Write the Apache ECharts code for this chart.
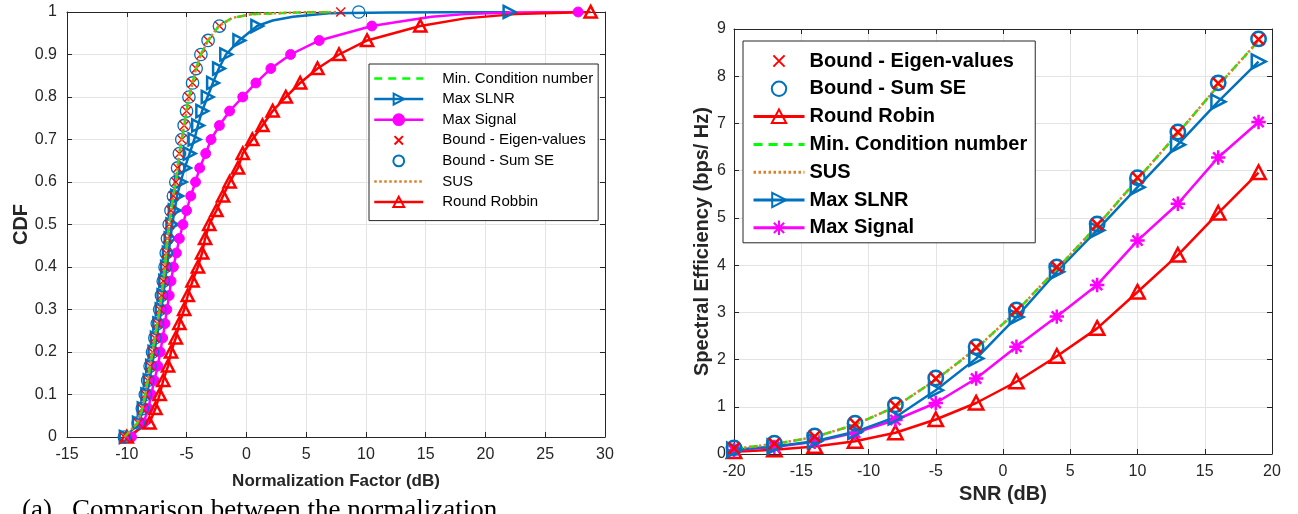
<!DOCTYPE html>
<html><head><meta charset="utf-8">
<script src="https://cdn.jsdelivr.net/npm/echarts@6/dist/echarts.min.js"></script>
<style>
html,body{margin:0;padding:0;background:#fff;overflow:hidden;width:1298px;height:514px}
#c1{position:absolute;left:0;top:0;width:650px;height:514px}
#c2{position:absolute;left:650px;top:0;width:648px;height:514px}
</style></head>
<body><div id="c1"></div><div id="c2"></div>
<script>
// ---------------- LEFT CHART DATA (CDF of normalization factor) ----------------
const cdfLevels = [0,0.033,0.067,0.1,0.133,0.167,0.2,0.233,0.267,0.3,0.333,0.367,0.4,0.433,0.467,0.5,0.533,0.567,0.6,0.633,0.667,0.7,0.733,0.767,0.8,0.833,0.867,0.9,0.933,0.967,1];
const leftXTicks = [-15,-10,-5,0,5,10,15,20,25,30];
const boundSumSEx = [-10.2,-9.05,-8.7,-8.45,-8.25,-8.05,-7.85,-7.65,-7.45,-7.25,-7.1,-6.95,-6.8,-6.7,-6.6,-6.45,-6.3,-6.1,-5.9,-5.75,-5.6,-5.4,-5.2,-5.0,-4.8,-4.5,-4.2,-3.8,-3.2,-2.25,9.4];
const boundEigX = [-10.2,-9.05,-8.7,-8.45,-8.25,-8.05,-7.85,-7.65,-7.45,-7.25,-7.1,-6.95,-6.8,-6.7,-6.6,-6.45,-6.3,-6.1,-5.9,-5.75,-5.6,-5.4,-5.2,-5.0,-4.8,-4.5,-4.2,-3.8,-3.2,-2.25,7.9];
const minCondX = [-10.2,-9.1,-8.7,-8.45,-8.25,-8.05,-7.85,-7.65,-7.45,-7.25,-7.1,-6.95,-6.8,-6.7,-6.6,-6.45,-6.3,-6.1,-5.9,-5.75,-5.6,-5.4,-5.2,-5.0,-4.8,-4.5,-4.2,-3.8,-3.2,-2.3];
const minCondTailX = [-1.2,0.5,4.4,7.3];
const minCondTailY = [0.986,0.995,0.999,1];
const susX = [-10.2,-9.1,-8.7,-8.45,-8.25,-8.05,-7.85,-7.65,-7.45,-7.25,-7.1,-6.95,-6.8,-6.7,-6.6,-6.45,-6.3,-6.1,-5.9,-5.75,-5.6,-5.4,-5.2,-5.0,-4.8,-4.5,-4.2,-3.8,-3.2,-2.3];
const susTailX = [-1.2,0.5,4.4,7.5];
const susTailY = [0.986,0.995,0.999,1];
const slnrX = [-10.1,-9.0,-8.6,-8.3,-8.1,-7.9,-7.7,-7.5,-7.3,-7.1,-6.95,-6.8,-6.65,-6.5,-6.35,-6.2,-6.0,-5.8,-5.5,-5.15,-4.75,-4.35,-4.05,-3.7,-3.25,-2.8,-2.3,-1.7,-0.6,0.9,22];
const slnrTailX = [2.2,3.9,6.9,12];
const slnrTailY = [0.98,0.989,0.997,0.999];
const signalX = [-9.6,-8.6,-8.2,-7.95,-7.7,-7.4,-7.2,-7.0,-6.8,-6.65,-6.45,-6.3,-6.1,-5.85,-5.6,-5.3,-5.0,-4.65,-4.25,-3.9,-3.4,-2.95,-2.25,-1.4,-0.3,0.8,2.05,3.7,6.1,10.5,27.75];
const signalTailX = [12.75,15.5,18.3,22.2];
const signalTailY = [0.977,0.989,0.995,0.999];
const robbinX = [-10.0,-8.1,-7.6,-7.25,-6.95,-6.55,-6.3,-5.9,-5.6,-5.2,-4.9,-4.5,-4.05,-3.7,-3.45,-3.1,-2.5,-1.95,-1.4,-0.7,-0.3,0.5,1.35,2.2,3.3,4.5,5.95,7.75,10.1,14.55,28.8];
const robbinTailX = [18.3,22.5];
const robbinTailY = [0.985,0.995];

// ---------------- RIGHT CHART DATA (Spectral efficiency vs SNR) ----------------
const snr = [-20,-17,-14,-11,-8,-5,-2,1,4,7,10,13,16,19];
const seBoundEig = [0.12,0.22,0.37,0.64,1.02,1.6,2.26,3.05,3.96,4.86,5.85,6.82,7.85,8.78];
const seBoundSumSE = [0.13,0.23,0.38,0.65,1.04,1.61,2.27,3.05,3.96,4.87,5.85,6.82,7.86,8.79];
const seRoundRobin = [0.05,0.09,0.16,0.27,0.45,0.73,1.08,1.53,2.07,2.66,3.43,4.21,5.1,5.96];
const seMinCond = [0.11,0.21,0.36,0.62,1.0,1.57,2.23,3.02,3.92,4.83,5.82,6.79,7.8,8.75];
const seSUS = [0.11,0.21,0.36,0.62,1.0,1.57,2.23,3.02,3.92,4.83,5.82,6.79,7.8,8.75];
const seMaxSLNR = [0.09,0.16,0.27,0.47,0.78,1.35,2.02,2.9,3.86,4.74,5.65,6.55,7.46,8.31];
const seMaxSignal = [0.08,0.15,0.26,0.45,0.72,1.08,1.6,2.27,2.91,3.58,4.52,5.3,6.28,7.03];

// ---------------- styling ----------------
const FONT = 'Liberation Sans, Arial, Helvetica, sans-serif';
const AX = '#262626';
const GRIDC = '#e3e3e3';
const C = {blue:'#0072BD', magenta:'#FF00FF', red:'#FF0000', green:'#00FF00', orange:'#D9822B'};
const SYM = {
  circle: 'path://M0,0M20,20M19,10A9,9,0,1,1,1,10A9,9,0,1,1,19,10Z',
  x: 'path://M0,0M20,20M3,3L17,17M17,3L3,17',
  triRight: 'path://M0,0M20,20M1.5,1L19,10L1.5,19Z',
  triUp: 'path://M0,0M20,20M10,1L19,18L1,18Z',
  star: 'path://M0,0M20,20M10,1L10,19M1,10L19,10M3.6,3.6L16.4,16.4M16.4,3.6L3.6,16.4'
};

function curve(xs, tailX, tailY) {
  const pts = [];
  const n = xs.length;
  for (let i = 0; i < Math.min(n, 30); i++) pts.push([xs[i], cdfLevels[i]]);
  (tailX || []).forEach((x, j) => pts.push({value: [x, tailY[j]], symbol: 'none'}));
  if (n === 31) pts.push([xs[30], cdfLevels[30]]);
  return pts;
}
function pairs(xs, ys) { return xs.map((x, i) => [x, ys[i]]); }

function ser(name, data, o) {
  return {
    type: 'line', name, data,
    symbol: o.symbol || 'none',
    symbolSize: o.size || 10,
    showAllSymbol: true,
    lineStyle: {color: o.line ? o.color : 'transparent', width: o.line ? (o.lw || 2.5) : 0, type: o.dash || 'solid'},
    itemStyle: {color: o.fill ? o.color : 'transparent', borderColor: o.symbol ? o.color : 'transparent', borderWidth: o.symbol ? (o.bw || 2) : 0},
    emphasis: {disabled: true},
    z: o.z || 2,
    silent: true
  };
}

function axes(xmin, xmax, xint, ymin, ymax, yint, xname, yname, xnameGap, ynameGap, xfs, yfs, ylabMargin) {
  const common = {
    type: 'value',
    axisLine: {show: true, onZero: false, lineStyle: {color: AX, width: 1}},
    axisTick: {show: true, inside: true, length: 5, lineStyle: {color: AX}},
  };
  const x0 = Object.assign({}, common, {
    position: 'bottom', min: xmin, max: xmax, interval: xint,
    axisLabel: {color: AX, fontSize: 16, fontFamily: FONT, margin: 10},
    splitLine: {show: true, lineStyle: {color: GRIDC, width: 1}},
    name: xname, nameLocation: 'middle', nameGap: xnameGap, nameMoveOverlap: false,
    nameTextStyle: {color: AX, fontSize: xfs, fontWeight: 'bold', fontFamily: FONT}
  });
  const x1 = Object.assign({}, common, {position: 'top', min: xmin, max: xmax, interval: xint, axisLabel: {show: false}, splitLine: {show: false}});
  const y0 = Object.assign({}, common, {
    position: 'left', min: ymin, max: ymax, interval: yint,
    axisLabel: {color: AX, fontSize: 16, fontFamily: FONT, margin: ylabMargin},
    splitLine: {show: true, lineStyle: {color: GRIDC, width: 1}},
    name: yname, nameLocation: 'middle', nameGap: ynameGap, nameMoveOverlap: false,
    nameTextStyle: {color: AX, fontSize: yfs, fontWeight: 'bold', fontFamily: FONT}
  });
  const y1 = Object.assign({}, common, {position: 'right', min: ymin, max: ymax, interval: yint, axisLabel: {show: false}, splitLine: {show: false}});
  return {xAxis: [x0, x1], yAxis: [y0, y1]};
}

// ---------------- LEFT CHART ----------------
const leftAxes = axes(leftXTicks[0], leftXTicks[leftXTicks.length - 1], 5, 0, 1, 0.1, 'Normalization Factor (dB)', 'CDF', 36, 36, 17, 20, 10);
const CAPFONT = '27px "Liberation Serif", "DejaVu Serif", serif';
const leftOption = {
  animation: false,
  textStyle: {fontFamily: FONT},
  grid: {left: 67, right: 45, top: 12, bottom: 77, outerBoundsMode: 'none', containLabel: false},
  xAxis: leftAxes.xAxis,
  yAxis: leftAxes.yAxis,
  legend: {
    orient: 'vertical', left: 369, top: 64,
    padding: [7, 5, 11, 4],
    itemWidth: 49, itemHeight: 15, itemGap: 5.6,
    backgroundColor: '#fff', borderColor: AX, borderWidth: 1, borderRadius: 0,
    selectedMode: false,
    lineStyle: {width: 2.5},
    textStyle: {fontSize: 15, color: '#000', fontFamily: FONT, padding: [0, 0, 0, 14]},
    data: ['Min. Condition number', 'Max SLNR', 'Max Signal', 'Bound - Eigen-values', 'Bound - Sum SE', 'SUS', 'Round Robbin']
  },
  series: [
    ser('Max SLNR', curve(slnrX, slnrTailX, slnrTailY), {color: C.blue, line: true, symbol: SYM.triRight, size: 13.5, bw: 2.5}),
    ser('Max Signal', curve(signalX, signalTailX, signalTailY), {color: C.magenta, line: true, symbol: SYM.circle, size: 11, fill: true, bw: 1}),
    ser('Round Robbin', curve(robbinX, robbinTailX, robbinTailY), {color: C.red, line: true, symbol: SYM.triUp, size: 13.5, bw: 2.5}),
    ser('Bound - Sum SE', curve(boundSumSEx), {color: C.blue, line: false, symbol: SYM.circle, size: 13.8, bw: 1.3}),
    ser('Bound - Eigen-values', curve(boundEigX), {color: C.red, line: false, symbol: SYM.x, size: 13, bw: 1.3}),
    ser('Min. Condition number', curve(minCondX, minCondTailX, minCondTailY), {color: C.green, line: true, dash: [8, 6], lw: 2.5, z: 3}),
    ser('SUS', curve(susX, susTailX, susTailY), {color: C.orange, line: true, dash: [2.5, 2.5], lw: 2.5, z: 3})
  ],
  graphic: [
    {type: 'text', x: 22, y: 511, silent: true, style: {text: '(a)', font: CAPFONT, fill: '#000', verticalAlign: 'middle', align: 'left'}},
    {type: 'text', x: 72, y: 511, silent: true, style: {text: 'Comparison between the normalization', font: CAPFONT, fill: '#000', verticalAlign: 'middle', align: 'left'}}
  ]
};

// ---------------- RIGHT CHART ----------------
const rightAxes = axes(-20, 20, 5, 0, 9, 1, 'SNR (dB)', 'Spectral Efficiency (bps/ Hz)', 30, 22, 20, 20, 8);
const rightOption = {
  animation: false,
  textStyle: {fontFamily: FONT},
  grid: {left: 84, right: 26, top: 29, bottom: 60, outerBoundsMode: 'none', containLabel: false},
  xAxis: rightAxes.xAxis,
  yAxis: rightAxes.yAxis,
  legend: {
    orient: 'vertical', left: 93, top: 41,
    padding: [10, 8, 5, 9],
    itemWidth: 51, itemHeight: 20, itemGap: 7.8,
    backgroundColor: '#fff', borderColor: AX, borderWidth: 1, borderRadius: 0,
    selectedMode: false,
    lineStyle: {width: 3},
    textStyle: {fontSize: 20, fontWeight: 'bold', color: '#000', fontFamily: FONT},
    data: ['Bound - Eigen-values', 'Bound - Sum SE', 'Round Robin', 'Min. Condition number', 'SUS', 'Max SLNR', 'Max Signal']
  },
  series: [
    ser('Round Robin', pairs(snr, seRoundRobin), {color: C.red, line: true, symbol: SYM.triUp, size: 16, bw: 2.5}),
    ser('Max Signal', pairs(snr, seMaxSignal), {color: C.magenta, line: true, symbol: SYM.star, size: 16, bw: 2.5}),
    ser('Max SLNR', pairs(snr, seMaxSLNR), {color: C.blue, line: true, symbol: SYM.triRight, size: 16, bw: 2.5}),
    ser('Min. Condition number', pairs(snr, seMinCond), {color: C.green, line: true, dash: [9, 6], lw: 2.5}),
    ser('SUS', pairs(snr, seSUS), {color: C.orange, line: true, dash: [2.5, 2.5], lw: 2.5}),
    ser('Bound - Sum SE', pairs(snr, seBoundSumSE), {color: C.blue, line: false, symbol: SYM.circle, size: 16, bw: 2.5, z: 3}),
    ser('Bound - Eigen-values', pairs(snr, seBoundEig), {color: C.red, line: false, symbol: SYM.x, size: 16, bw: 2.5, z: 4})
  ]
};

const ch1 = echarts.init(document.getElementById('c1'), null, {renderer: 'canvas'});
ch1.setOption(leftOption);
const ch2 = echarts.init(document.getElementById('c2'), null, {renderer: 'canvas'});
ch2.setOption(rightOption);
</script>
</body></html>
